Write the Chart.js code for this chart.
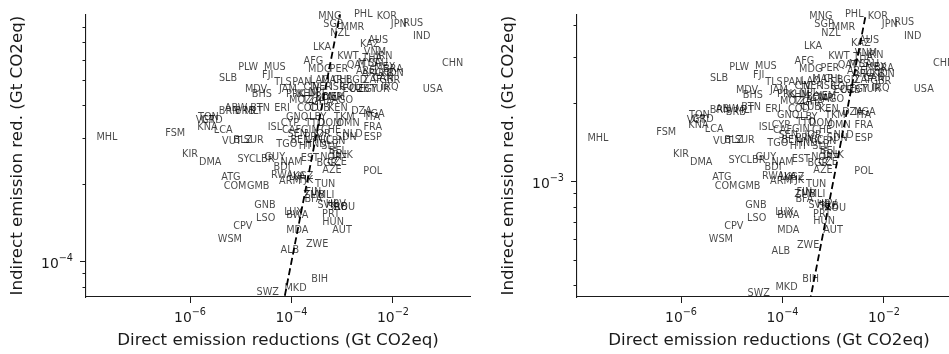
<!DOCTYPE html>
<html>
<head>
<meta charset="utf-8">
<script src="https://cdn.jsdelivr.net/npm/chart.js@4.4.1/dist/chart.umd.min.js"></script>
<style>
  html, body { margin: 0; padding: 0; background: #fff; overflow: hidden; }
  #wrap { position: relative; width: 949px; height: 354px; overflow: hidden; }
  .panel { position: absolute; top: 0; width: 480px; height: 354px; }
  #left { left: 0; }
  #right { left: 491px; }
</style>
</head>
<body>
<div id="wrap">
  <div class="panel" id="left"><canvas id="chartLeft" width="480" height="354"></canvas></div>
  <div class="panel" id="right"><canvas id="chartRight" width="480" height="354"></canvas></div>
</div>
<script>
// country codes (ISO3)
var countries = ['PHL','MNG','KOR','SGP','JPN','RUS','MMR','NZL','IND','KAZ',
  'AUS','LKA','VNM','KWT','THA','IRN','AFG','CHN','QAT','MYS',
  'SAU','MEX','BRA','MDG','PER','PLW','MUS','ARE','ARG','UKR',
  'IDN','FJI','SLB','LAO','MAR','CHL','BGD','ZAF','CAN','GBR',
  'TLS','PAN','MDV','JAM','CIV','NER','ISR','COL','ECU','UZB',
  'EGY','TUR','IRQ','USA','BHS','PRK','KHM','NPL','BOL','YEM',
  'MOZ','TZA','GHA','CMR','AGO','BTN','ERI','BRN','ABW','BRB',
  'MLT','COD','CUB','KEN','DZA','NGA','GNQ','LBY','TKM','ITA',
  'TON','GRD','VCT','KNA','LCA','FSM','MHL','ISL','CYP','TTO',
  'DOM','OMN','FRA','CAF','GIN','CHE','VUT','BLZ','SUR','SDN',
  'NLD','ESP','SEN','TGO','BEN','HTI','HND','NIC','SLV','PRY',
  'JOR','LBN','BEL','KIR','DMA','SYC','LBR','GUY','EST','NOR',
  'DNK','NAM','BDI','BGR','CZE','AZE','POL','ATG','RWA','LVA',
  'ARM','TJK','KGZ','TUN','COM','GMB','FIN','ZMB','MLI','BFA',
  'SVK','HRV','SRB','ROU','GNB','LUX','BWA','PRT','HUN','LSO',
  'CPV','WSM','MDA','AUT','ZWE','ALB','BIH','MKD','SWZ'];

// direct emission reductions (Gt CO2eq)
var direct = [2.6e-3, 5.7e-4, 7.6e-3, 6.6e-4, 1.3e-2, 2.5e-2, 1.6e-3, 9.0e-4, 3.7e-2, 3.5e-3,
  5.1e-3, 4.0e-4, 4.4e-3, 1.3e-3, 3.9e-3, 6.7e-3, 2.7e-4, 1.5e-1, 1.9e-3, 3.2e-3,
  5.1e-3, 6.9e-3, 1.0e-2, 3.6e-4, 8.6e-4, 1.4e-5, 4.7e-5, 2.9e-3, 3.9e-3, 6.7e-3,
  1.1e-2, 3.4e-5, 5.6e-6, 3.6e-4, 6.3e-4, 1.0e-3, 1.9e-3, 3.9e-3, 6.4e-3, 8.7e-3,
  6.8e-5, 1.6e-4, 2.0e-5, 8.5e-5, 2.5e-4, 4.0e-4, 8.2e-4, 1.4e-3, 1.6e-3, 2.2e-3,
  3.2e-3, 5.5e-3, 8.7e-3, 6.1e-2, 2.6e-5, 1.2e-4, 2.1e-4, 3.3e-4, 4.6e-4, 7.2e-4,
  1.5e-4, 2.5e-4, 4.0e-4, 6.3e-4, 1.0e-3, 2.4e-5, 6.5e-5, 5.9e-6, 8.1e-6, 1.2e-5,
  1.8e-5, 2.1e-4, 3.6e-4, 8.2e-4, 2.4e-3, 4.2e-3, 1.3e-4, 3.3e-4, 1.1e-3, 4.0e-3,
  2.3e-6, 2.7e-6, 2.0e-6, 2.2e-6, 4.5e-6, 5.1e-7, 2.3e-8, 4.7e-5, 9.3e-5, 2.9e-4,
  5.7e-4, 1.3e-3, 4.0e-3, 1.0e-4, 2.3e-4, 6.0e-4, 6.7e-6, 1.1e-5, 1.8e-5, 1.2e-3,
  1.6e-3, 4.0e-3, 1.3e-4, 8.1e-5, 1.5e-4, 2.0e-4, 3.0e-4, 4.4e-4, 5.7e-4, 2.7e-4,
  4.0e-4, 7.5e-4, 8.2e-4, 1.0e-6, 2.5e-6, 1.3e-5, 3.0e-5, 4.7e-5, 2.3e-4, 6.0e-4,
  1.0e-3, 1.0e-4, 6.5e-5, 5.0e-4, 7.9e-4, 6.3e-4, 4.0e-3, 6.4e-6, 6.5e-5, 1.3e-4,
  9.3e-5, 1.9e-4, 1.7e-4, 4.6e-4, 7.7e-6, 2.2e-5, 2.7e-4, 2.8e-4, 4.8e-4, 2.7e-4,
  5.0e-4, 7.5e-4, 8.2e-4, 1.1e-3, 3.0e-5, 1.1e-4, 1.3e-4, 6.0e-4, 6.6e-4, 3.1e-5,
  1.1e-5, 6.1e-6, 1.3e-4, 9.9e-4, 3.2e-4, 9.3e-5, 3.6e-4, 1.2e-4, 3.4e-5];

// indirect emission reductions, left panel (Gt CO2eq)
var indirectLow = [9.0e-4, 8.8e-4, 8.8e-4, 8.2e-4, 8.2e-4, 8.3e-4, 8.0e-4, 7.6e-4, 7.4e-4, 6.9e-4,
  7.1e-4, 6.7e-4, 6.4e-4, 6.2e-4, 6.1e-4, 6.2e-4, 5.9e-4, 5.8e-4, 5.7e-4, 5.8e-4,
  5.8e-4, 5.6e-4, 5.5e-4, 5.5e-4, 5.5e-4, 5.6e-4, 5.6e-4, 5.4e-4, 5.3e-4, 5.3e-4,
  5.3e-4, 5.2e-4, 5.1e-4, 5.0e-4, 5.0e-4, 5.0e-4, 5.0e-4, 5.0e-4, 5.1e-4, 5.0e-4,
  4.9e-4, 4.9e-4, 4.6e-4, 4.6e-4, 4.7e-4, 4.7e-4, 4.7e-4, 4.7e-4, 4.6e-4, 4.6e-4,
  4.6e-4, 4.6e-4, 4.7e-4, 4.6e-4, 4.4e-4, 4.4e-4, 4.4e-4, 4.5e-4, 4.3e-4, 4.3e-4,
  4.2e-4, 4.2e-4, 4.1e-4, 4.3e-4, 4.2e-4, 3.9e-4, 3.9e-4, 3.8e-4, 3.9e-4, 3.8e-4,
  3.8e-4, 3.9e-4, 3.9e-4, 3.9e-4, 3.8e-4, 3.7e-4, 3.6e-4, 3.6e-4, 3.6e-4, 3.6e-4,
  3.6e-4, 3.5e-4, 3.5e-4, 3.3e-4, 3.2e-4, 3.13e-4, 3.00e-4, 3.3e-4, 3.4e-4, 3.4e-4,
  3.4e-4, 3.4e-4, 3.3e-4, 3.2e-4, 3.2e-4, 3.2e-4, 2.90e-4, 2.92e-4, 2.92e-4, 3.00e-4,
  3.1e-4, 3.00e-4, 3.1e-4, 2.84e-4, 2.92e-4, 2.77e-4, 2.84e-4, 2.92e-4, 2.77e-4, 3.00e-4,
  3.1e-4, 2.90e-4, 2.65e-4, 2.58e-4, 2.41e-4, 2.47e-4, 2.47e-4, 2.52e-4, 2.49e-4, 2.52e-4,
  2.56e-4, 2.41e-4, 2.31e-4, 2.39e-4, 2.41e-4, 2.24e-4, 2.22e-4, 2.11e-4, 2.15e-4, 2.11e-4,
  2.04e-4, 2.06e-4, 2.13e-4, 1.99e-4, 1.95e-4, 1.95e-4, 1.85e-4, 1.80e-4, 1.80e-4, 1.73e-4,
  1.65e-4, 1.66e-4, 1.62e-4, 1.61e-4, 1.65e-4, 1.55e-4, 1.50e-4, 1.52e-4, 1.42e-4, 1.47e-4,
  1.37e-4, 1.22e-4, 1.32e-4, 1.32e-4, 1.16e-4, 1.10e-4, 8.5e-5, 7.9e-5, 7.6e-5];

// indirect emission reductions, right panel (Gt CO2eq)
var indirectHigh = [4.4e-3, 4.3e-3, 4.3e-3, 4.0e-3, 4.0e-3, 4.1e-3, 3.9e-3, 3.7e-3, 3.6e-3, 3.4e-3,
  3.5e-3, 3.3e-3, 3.1e-3, 3.03e-3, 3.00e-3, 3.05e-3, 2.90e-3, 2.84e-3, 2.80e-3, 2.82e-3,
  2.82e-3, 2.75e-3, 2.72e-3, 2.70e-3, 2.72e-3, 2.75e-3, 2.77e-3, 2.65e-3, 2.58e-3, 2.61e-3,
  2.58e-3, 2.56e-3, 2.49e-3, 2.43e-3, 2.47e-3, 2.47e-3, 2.45e-3, 2.45e-3, 2.49e-3, 2.43e-3,
  2.41e-3, 2.41e-3, 2.24e-3, 2.24e-3, 2.33e-3, 2.33e-3, 2.33e-3, 2.31e-3, 2.24e-3, 2.24e-3,
  2.26e-3, 2.26e-3, 2.29e-3, 2.26e-3, 2.15e-3, 2.17e-3, 2.15e-3, 2.19e-3, 2.11e-3, 2.13e-3,
  2.04e-3, 2.04e-3, 2.02e-3, 2.09e-3, 2.07e-3, 1.93e-3, 1.90e-3, 1.87e-3, 1.90e-3, 1.85e-3,
  1.87e-3, 1.90e-3, 1.92e-3, 1.90e-3, 1.85e-3, 1.84e-3, 1.79e-3, 1.77e-3, 1.79e-3, 1.79e-3,
  1.79e-3, 1.74e-3, 1.71e-3, 1.64e-3, 1.58e-3, 1.54e-3, 1.47e-3, 1.61e-3, 1.65e-3, 1.68e-3,
  1.67e-3, 1.65e-3, 1.64e-3, 1.57e-3, 1.58e-3, 1.57e-3, 1.42e-3, 1.44e-3, 1.44e-3, 1.47e-3,
  1.51e-3, 1.47e-3, 1.51e-3, 1.40e-3, 1.44e-3, 1.36e-3, 1.40e-3, 1.44e-3, 1.36e-3, 1.47e-3,
  1.51e-3, 1.42e-3, 1.30e-3, 1.27e-3, 1.18e-3, 1.21e-3, 1.21e-3, 1.24e-3, 1.22e-3, 1.24e-3,
  1.26e-3, 1.18e-3, 1.13e-3, 1.17e-3, 1.18e-3, 1.10e-3, 1.09e-3, 1.04e-3, 1.05e-3, 1.04e-3,
  1.00e-3, 1.01e-3, 1.04e-3, 9.75e-4, 9.57e-4, 9.57e-4, 9.1e-4, 8.9e-4, 8.9e-4, 8.5e-4,
  8.1e-4, 8.2e-4, 8.0e-4, 7.9e-4, 8.1e-4, 7.6e-4, 7.4e-4, 7.5e-4, 7.0e-4, 7.2e-4,
  6.7e-4, 6.0e-4, 6.5e-4, 6.5e-4, 5.7e-4, 5.4e-4, 4.2e-4, 3.9e-4, 3.7e-4];

// y = x reference line
var identity = [1e-6, 1e-1];

// ticks: value, and exponent used for the "10^n" label
var xTicks = [1e-6, 1e-4, 1e-2];
var xTickExp = ['\u22126', '\u22124', '\u22122'];
var yTicksLow = [8e-5, 9e-5, 1e-4, 2e-4, 3e-4, 4e-4, 5e-4, 6e-4, 7e-4, 8e-4];
var yTicksHigh = [4e-4, 5e-4, 6e-4, 7e-4, 8e-4, 9e-4, 1e-3, 2e-3, 3e-3, 4e-3];
var yMajorLow = [1e-4], yMajorLowExp = ['\u22124'];
var yMajorHigh = [1e-3], yMajorHighExp = ['\u22123'];

var axisColor = '#1a1a1a';
var FONT = '"DejaVu Sans", sans-serif';
Chart.defaults.font.family = FONT;

// country codes drawn at each point
var countryLabels = {
  id: 'countryLabels',
  afterDatasetsDraw: function(chart) {
    var ctx = chart.ctx;
    var meta = chart.getDatasetMeta(0);
    ctx.save();
    ctx.font = '9.7px ' + FONT;
    ctx.fillStyle = 'rgba(0,0,0,0.72)';
    ctx.textAlign = 'center';
    ctx.textBaseline = 'middle';
    meta.data.forEach(function(pt, i) {
      ctx.fillText(countries[i], pt.x, pt.y);
    });
    ctx.restore();
  }
};

// "10" with a raised exponent, like matplotlib's log tick labels
function drawPower(ctx, exp, x, baseY, align) {
  ctx.font = '13.9px ' + FONT;
  var wBase = ctx.measureText('10').width;
  ctx.font = '9.7px ' + FONT;
  var wExp = ctx.measureText(exp).width;
  var w = wBase + wExp;
  var x0 = align === 'right' ? x - w : x - w / 2;
  ctx.textAlign = 'left';
  ctx.textBaseline = 'alphabetic';
  ctx.font = '13.9px ' + FONT;
  ctx.fillText('10', x0, baseY);
  ctx.font = '9.7px ' + FONT;
  ctx.fillText(exp, x0 + wBase, baseY - 7);
}

// minor ticks and tick labels
var axisDecor = {
  id: 'axisDecor',
  afterDraw: function(chart) {
    var ctx = chart.ctx, area = chart.chartArea;
    var xs = chart.scales.x, ys = chart.scales.y;
    var o = chart.options.axisDecor;
    ctx.save();
    ctx.strokeStyle = axisColor;
    ctx.fillStyle = axisColor;
    ctx.lineWidth = 1;
    ys.ticks.forEach(function(t) {
      var p = Math.round(ys.getPixelForValue(t.value)) + 0.5;
      if (!t.major) {
        ctx.beginPath();
        ctx.moveTo(area.left - 3.5, p);
        ctx.lineTo(area.left, p);
        ctx.stroke();
      } else {
        var i = o.yMajor.indexOf(t.value);
        drawPower(ctx, o.yExp[i], area.left - 13, p + 5, 'right');
      }
    });
    xTicks.forEach(function(v, i) {
      drawPower(ctx, xTickExp[i], xs.getPixelForValue(v), area.bottom + 25, 'center');
    });
    ctx.restore();
  }
};

function makeChart(id, indirect, yMin, yMax, yTicks, yMajor, yExp) {
  var ctx = document.getElementById(id).getContext('2d');
  var points = direct.map(function(x, i) { return {x: x, y: indirect[i]}; });
  return new Chart(ctx, {
    type: 'scatter',
    data: {
      datasets: [{
        data: points,
        pointRadius: 0,
        pointHoverRadius: 0
      }, {
        data: identity.map(function(v) { return {x: v, y: v}; }),
        showLine: true,
        borderColor: '#000',
        borderWidth: 1.8,
        borderDash: [7, 3.5],
        pointRadius: 0
      }]
    },
    options: {
      responsive: false,
      animation: false,
      axisDecor: { yMajor: yMajor, yExp: yExp },
      layout: { padding: { top: 12, right: 10, left: 0, bottom: 0 } },
      plugins: { legend: { display: false }, tooltip: { enabled: false } },
      scales: {
        x: {
          type: 'logarithmic',
          bounds: 'data',
          min: 8.9e-9,
          max: 0.33,
          afterBuildTicks: function(s) {
            s.ticks = xTicks.map(function(v) { return {value: v, major: true}; });
          },
          afterFit: function(s) { s.height = 57; },
          grid: { display: true, drawOnChartArea: false, tickLength: 6, tickWidth: 1, tickColor: axisColor },
          border: { display: true, color: axisColor, width: 1.1 },
          ticks: { autoSkip: false, maxRotation: 0, padding: 4, callback: function() { return ''; } },
          title: {
            display: true, text: 'Direct emission reductions (Gt CO2eq)',
            color: axisColor, font: { size: 16.7 }, padding: { top: 0, bottom: 3 }
          }
        },
        y: {
          type: 'logarithmic',
          bounds: 'data',
          min: yMin,
          max: yMax,
          afterBuildTicks: function(s) {
            s.ticks = yTicks.map(function(v) { return {value: v, major: yMajor.indexOf(v) >= 0}; });
          },
          afterFit: function(s) { s.width = 86; },
          grid: {
            display: true, drawOnChartArea: false, tickLength: 6, tickWidth: 1,
            tickColor: function(c) { return c.tick && c.tick.major ? axisColor : 'rgba(0,0,0,0)'; }
          },
          border: { display: true, color: axisColor, width: 1.1 },
          ticks: { autoSkip: false, padding: 7, callback: function() { return ''; } },
          title: {
            display: true, text: 'Indirect emission red. (Gt CO2eq)',
            color: axisColor, font: { size: 16.7 }, padding: { top: 8, bottom: 0 }
          }
        }
      }
    },
    plugins: [countryLabels, axisDecor]
  });
}

makeChart('chartLeft', indirectLow, 7.3e-5, 9.0e-4, yTicksLow, yMajorLow, yMajorLowExp);
makeChart('chartRight', indirectHigh, 3.6e-4, 4.4e-3, yTicksHigh, yMajorHigh, yMajorHighExp);
</script>
</body>
</html>
